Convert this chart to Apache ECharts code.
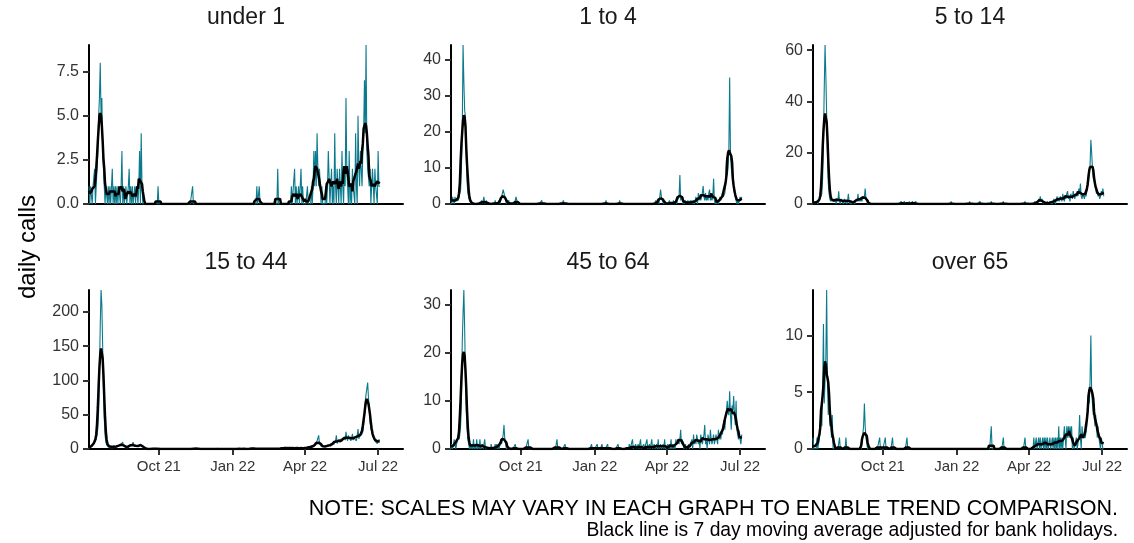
<!DOCTYPE html>
<html>
<head>
<meta charset="utf-8">
<script src="https://cdn.jsdelivr.net/npm/echarts@6.0.0/dist/echarts.min.js"></script>
<style>
  html, body { margin: 0; padding: 0; background: #fff; }
  #chart { width: 1134px; height: 543px; }
</style>
</head>
<body>
<div id="chart"></div>
<script>
// 数据：每个年龄组的每日电话数（2021-07-06 起，每行一个月）
const startDate = '2021-07-06';
const endDate = '2022-08-01';

const panelNames = ['under 1', '1 to 4', '5 to 14', '15 to 44', '45 to 64', 'over 65'];

const xTickDates = ['2021-10-01', '2022-01-01', '2022-04-01', '2022-07-01'];
const xTickLabels = ['Oct 21', 'Jan 22', 'Apr 22', 'Jul 22'];

const yMax = [9, 44, 62, 232, 33, 14];
const yTicks = [
    [0, 2.5, 5, 7.5],
    [0, 10, 20, 30, 40],
    [0, 20, 40, 60],
    [0, 50, 100, 150, 200],
    [0, 10, 20, 30],
    [0, 5, 10]
];

const under1 = [
    1,0,1,1,0,1,1,2,0,1, 2,3,5,6,8,5,6,3,2,1, 0,1,1,0,1,0,
    1,0,1,2,0,1,0,1,0,1, 0,1,1,0,1,3,0,1,0,0, 1,0,0,1,2,0,1,0,1,0, 0,
    1,0,1,1,0,1,3,0,4,1, 0,0,0,0,0,0,0,0,0,0, 0,0,0,0,0,0,0,0,0,1,
    0,0,0,0,0,0,0,0,0,0, 0,0,0,0,0,0,0,0,0,0, 0,0,0,0,0,0,0,0,0,0, 0,
    0,0,0,0,0,0,0,0,0,0, 0,1,0,0,0,0,0,0,0,0, 0,0,0,0,0,0,0,0,0,0,
    0,0,0,0,0,0,0,0,0,0, 0,0,0,0,0,0,0,0,0,0, 0,0,0,0,0,0,0,0,0,0, 0,
    0,0,0,0,0,0,0,0,0,0, 0,0,0,0,0,0,0,0,0,0, 0,0,0,0,0,0,0,0,0,0, 1,
    0,0,1,0,0,0,0,0,0,0, 0,0,0,0,0,0,0,0,0,0, 0,0,0,0,0,2,0,0,
    0,0,0,0,0,0,0,0,0,0, 0,0,0,0,1,0,0,0,2,0, 1,0,0,1,0,0,2,0,1,0, 0,
    0,0,0,1,0,0,0,0,1,0, 1,3,1,3,1,4,2,1,2,1, 0,1,0,0,0,0,1,0,1,3,
    3,0,1,2,0,1,0,4,1,0, 2,1,0,2,1,0,3,1,0,2, 1,6,2,1,0,3,0,1,0,2, 1,
    1,0,4,1,0,5,2,1,3,2, 1,3,4,7,4,9,3,2,2,1, 2,0,1,2,1,0,2,1,1,0,
    3,1,1
];

const age1to4 = [
    1,0,2,1,0,2,1,1,1,1, 2,2,4,10,20,44,34,26,24,14, 6,3,2,1,1,0,
    0,0,0,0,0,0,0,0,0,0, 0,0,1,0,0,2,0,0,1,0, 0,0,0,0,0,0,0,0,0,1, 0,
    0,0,0,1,0,1,2,3,4,3, 2,1,0,0,0,1,0,0,0,0, 0,0,0,1,2,1,0,0,0,0,
    0,0,0,0,0,0,0,0,0,0, 0,0,0,0,0,0,0,0,0,0, 0,0,0,0,0,0,1,0,0,0, 0,
    0,0,0,0,0,0,0,0,0,0, 0,0,0,0,0,0,0,0,0,0, 0,0,1,0,0,0,0,0,0,0,
    0,0,0,0,0,0,0,0,0,0, 0,0,0,0,0,0,0,0,0,0, 0,0,0,0,0,0,0,0,0,0, 0,
    0,0,0,0,0,0,0,0,0,0, 0,0,0,0,1,0,0,0,0,0, 0,0,0,0,0,0,0,0,0,0, 0,
    1,0,0,0,0,0,0,0,0,0, 0,0,0,0,0,0,0,0,0,0, 0,0,0,0,0,0,0,0,
    0,0,0,0,0,0,0,0,0,0, 0,0,0,0,0,0,0,1,0,0, 1,0,2,4,2,1,1,0,1,0, 0,
    0,0,0,1,0,0,0,0,1,0, 0,1,0,1,1,2,8,1,1,2, 0,1,0,1,0,0,1,0,0,1,
    0,1,0,1,0,1,2,1,0,3, 1,2,1,2,3,5,2,1,3,1, 2,1,3,4,1,2,1,2,7,1, 0,
    1,0,1,0,1,2,1,2,3,2, 2,3,5,12,8,10,15,35,14,10, 8,6,5,3,2,1,0,1,0,1,
    2,1,2
];

const age5to14 = [
    1,0,1,0,1,1,0,1,2,2, 3,4,10,25,45,62,50,35,20,8, 4,2,1,2,1,2,
    1,2,1,0,2,1,5,1,0,2, 1,1,0,2,1,1,0,1,4,1, 0,1,0,1,0,1,0,1,2,1, 4,
    1,2,1,2,1,3,2,3,6,2, 1,0,0,0,0,0,0,0,0,0, 0,0,0,0,0,0,0,0,0,0,
    0,0,0,0,0,0,0,0,0,0, 0,0,0,0,0,0,0,0,0,0, 0,0,0,1,0,0,0,1,0,0, 0,
    0,0,1,0,0,0,1,0,0,0, 1,0,0,0,0,0,0,0,0,0, 0,0,0,0,0,0,0,0,0,0,
    0,0,0,0,0,0,0,0,0,0, 0,0,0,0,0,0,0,0,0,0, 0,0,0,0,1,0,0,0,0,0, 0,
    0,0,0,0,0,0,0,0,0,0, 0,0,0,0,0,0,1,0,0,0, 0,0,0,0,0,0,0,0,0,1, 0,
    0,0,0,0,0,0,0,0,0,0, 0,0,1,0,0,0,0,0,0,0, 0,0,0,0,0,0,0,1,
    0,0,0,0,0,0,0,0,0,0, 0,0,0,0,0,0,0,0,0,0, 0,0,0,0,0,0,1,0,0,0, 0,
    0,0,0,0,0,0,0,1,0,0, 0,1,2,1,3,1,2,1,0,1, 0,0,0,1,0,0,1,0,1,0,
    1,2,1,0,2,3,1,2,1,3, 2,1,4,2,1,3,2,4,5,2, 3,1,4,3,2,5,3,2,4,3, 5,
    3,6,4,8,3,2,4,3,2,4, 3,5,7,8,12,15,25,20,14,10, 10,8,6,4,5,3,4,2,3,5,
    4,6,3
];

const age15to44 = [
    1,2,3,4,6,5,8,9,12,15, 20,30,55,110,180,232,210,150,90,45, 20,10,6,4,3,5,
    3,2,4,3,2,5,3,2,4,3, 5,4,6,5,7,6,10,5,4,3, 2,4,3,2,5,4,6,5,7,10, 4,
    5,3,4,2,5,4,6,7,9,5, 3,2,1,0,1,0,0,0,0,0, 0,0,0,1,0,1,0,0,0,0,
    0,1,0,0,0,0,0,0,1,0, 0,0,0,0,0,0,0,0,0,0, 1,0,0,0,0,0,0,0,0,0, 0,
    0,0,0,0,0,0,0,0,0,0, 0,0,0,0,0,2,1,0,0,0, 0,0,0,0,0,0,0,0,0,0,
    0,0,0,0,0,0,0,0,0,0, 0,0,1,0,0,0,0,0,0,0, 0,0,1,0,0,0,0,0,0,0, 0,
    0,0,0,0,0,0,1,0,0,0, 0,1,0,0,0,0,1,0,0,0, 0,1,0,0,2,0,1,0,1,0, 0,
    1,0,0,2,0,1,0,0,1,0, 0,2,0,0,1,0,0,1,0,0, 2,0,0,1,0,0,1,0,
    1,0,2,1,1,0,3,1,2,0, 1,1,3,0,2,1,1,0,2,1, 3,0,2,1,1,0,3,1,2,0, 1,
    2,1,3,2,1,3,2,4,3,2, 5,4,6,5,8,9,10,20,8,6, 4,3,5,4,3,2,5,3,4,6,
    5,7,4,8,6,10,7,9,12,20, 8,11,9,13,10,15,12,14,11,18, 13,25,16,12,20,14,17,12,15,22, 13,
    16,14,18,12,20,29,15,18,20,18, 22,25,35,50,70,80,80,97,75,60, 40,30,25,20,18,15,12,10,12,8,
    10,14,12
];

const age45to64 = [
    0,1,0,1,2,1,0,1,2,3, 2,3,5,10,22,28,33,25,15,8, 4,2,1,0,1,0,
    1,0,2,0,1,0,2,0,1,0, 2,0,0,1,0,0,2,0,0,0, 0,0,0,0,1,0,0,0,0,1, 0,
    1,0,1,0,1,2,1,2,3,5, 2,1,0,1,0,0,0,0,0,0, 0,0,0,1,0,0,0,0,0,0,
    0,0,0,0,0,0,0,0,0,2, 0,0,0,0,0,0,0,0,0,0, 0,0,0,0,0,0,0,0,0,0, 0,
    0,0,0,0,0,0,0,0,0,0, 0,0,0,0,2,0,0,0,0,0, 0,0,0,0,1,0,0,0,0,0,
    0,0,0,0,0,0,0,0,0,0, 0,0,0,0,0,0,0,0,0,0, 0,0,0,0,0,0,0,1,0,0, 0,
    0,0,0,1,0,0,0,0,0,1, 0,0,0,0,0,0,1,0,0,0, 0,0,0,0,0,0,0,0,0,1, 0,
    0,0,0,0,0,0,0,0,0,0, 0,0,1,0,0,0,2,0,0,0, 1,0,0,1,0,0,2,0,
    0,0,1,0,0,0,2,0,0,1, 0,0,2,0,0,1,0,0,1,0, 2,0,0,1,0,0,1,0,2,0, 0,
    0,1,0,1,0,2,0,1,0,1, 0,2,1,1,2,1,2,4,1,2, 1,0,0,1,0,0,0,1,0,1,
    1,2,0,3,1,2,1,3,2,1, 2,0,3,2,1,2,3,5,1,2, 0,3,2,1,4,2,1,2,3,1, 2,
    3,2,1,4,2,3,2,4,3,5, 6,4,7,8,10,8,7,12,7,4, 9,8,11,7,5,10,4,3,2,3,
    2,1,3
];

const over65 = [
    1,0,0,0,0,1,0,0,1,2, 3,2,5,11,4,6,8,14,6,3, 5,2,3,1,3,0,
    0,0,0,0,0,0,0,1,0,0, 0,0,0,0,0,1,0,0,0,0, 0,0,0,0,0,0,0,0,0,0, 0,
    0,0,0,0,0,0,2,4,2,1, 1,0,0,0,0,0,0,0,0,0, 0,0,0,0,0,0,1,0,0,0,
    0,0,0,1,0,0,0,0,0,0, 0,0,1,0,0,0,0,0,0,0, 0,0,0,0,0,0,0,0,0,0, 1,
    0,0,0,0,0,0,0,0,0,0, 0,0,0,0,0,0,0,0,0,0, 0,0,0,0,0,0,0,0,0,0,
    0,0,0,0,0,0,0,0,0,0, 0,0,0,0,0,0,0,0,0,0, 0,0,0,0,0,0,0,0,0,0, 0,
    0,0,0,0,0,0,0,0,0,0, 0,0,0,0,0,0,0,0,0,0, 0,0,0,0,0,0,0,0,0,0, 0,
    0,0,0,0,0,0,0,0,0,0, 0,0,2,0,0,0,0,0,0,0, 0,0,0,0,0,0,0,1,
    0,0,0,0,0,0,0,0,0,0, 0,0,0,0,0,0,0,0,0,0, 0,0,0,0,0,0,1,0,0,0, 0,
    0,0,0,0,0,0,1,0,0,1, 0,0,1,0,1,0,0,1,0,1, 0,1,0,1,0,0,1,0,0,1,
    0,1,0,1,0,1,0,2,0,1, 0,1,0,1,2,1,0,2,1,2, 1,2,1,2,0,1,0,0,0,1, 0,
    0,1,3,1,0,2,1,1,1,1, 1,2,4,5,4,6,10,5,4,3, 4,2,3,2,1,2,1,1,0,1,
    1,0,0
];

const panelData = [under1, age1to4, age5to14, age15to44, age45to64, over65];

// 颜色与布局
const dailyColor = '#0b7a8d';
const textColor = '#333';
const fontFamily = 'Liberation Sans, Arial, sans-serif';
const gridLeft = [89, 451, 813];
const gridTop = [45, 290];
const gridWidth = 314;
const gridHeight = 159;

// x 轴用“距起始日的天数”，刻度由日期换算
const dayMs = 24 * 3600 * 1000;
const startTs = Date.parse(startDate);
const toDay = d => Math.round((Date.parse(d) - startTs) / dayMs);
const xMaxDay = toDay(endDate);
const tickDays = xTickDates.map(toDay);

// 7 天居中移动平均（两端用可用天数）
function movingAverage(values, k) {
    const half = Math.floor(k / 2);
    return values.map((v, i) => {
        const win = values.slice(Math.max(0, i - half), Math.min(values.length, i + half + 1));
        return win.reduce((a, b) => a + b, 0) / win.length;
    });
}

const toPoints = vals => vals.map((v, j) => [j, v]);

const grids = [], xAxes = [], yAxes = [], series = [], graphics = [];

panelData.forEach((vals, i) => {
    const col = i % 3;
    const row = Math.floor(i / 3);
    const bottom = row === 1;

    grids.push({
        left: gridLeft[col], top: gridTop[row],
        width: gridWidth, height: gridHeight,
        containLabel: false, outerBoundsMode: 'none'
    });

    xAxes.push({
        type: 'value', gridIndex: i,
        min: 0, max: xMaxDay,
        axisLine: { show: true, onZero: false, lineStyle: { color: '#000', width: 2 } },
        axisTick: {
            show: bottom, length: 6, customValues: tickDays,
            lineStyle: { color: textColor, width: 2 }
        },
        axisLabel: {
            show: bottom, customValues: tickDays, margin: 10,
            color: textColor, fontSize: 15, fontFamily: fontFamily,
            formatter: v => xTickLabels[tickDays.indexOf(v)] || ''
        },
        splitLine: { show: false }
    });

    yAxes.push({
        type: 'value', gridIndex: i,
        min: 0, max: yMax[i],
        axisLine: { show: true, lineStyle: { color: '#000', width: 2 } },
        axisTick: {
            show: true, length: 6, customValues: yTicks[i],
            lineStyle: { color: textColor, width: 2 }
        },
        axisLabel: {
            customValues: yTicks[i], margin: 10,
            color: textColor, fontSize: 16, fontFamily: fontFamily,
            formatter: v => (i === 0 ? v.toFixed(1) : String(v))
        },
        splitLine: { show: false }
    });

    series.push({
        name: panelNames[i] + ' daily', type: 'line',
        xAxisIndex: i, yAxisIndex: i,
        data: toPoints(vals),
        showSymbol: false, symbol: 'none', z: 2,
        lineStyle: { color: dailyColor, width: 1.1 }
    });
    series.push({
        name: panelNames[i] + ' 7 day average', type: 'line',
        xAxisIndex: i, yAxisIndex: i,
        data: toPoints(movingAverage(vals, 7)),
        showSymbol: false, symbol: 'none', z: 3,
        lineStyle: { color: '#000', width: 2.5 }
    });

    // 面板标题
    graphics.push({
        type: 'text',
        x: gridLeft[col] + gridWidth / 2,
        y: gridTop[row] - 27,
        style: {
            text: panelNames[i], fill: '#1a1a1a',
            fontSize: 23, fontFamily: fontFamily,
            align: 'center', verticalAlign: 'middle'
        }
    });
});

// y 轴标题和底部说明
graphics.push({
    type: 'text', x: 28, y: 247, rotation: Math.PI / 2,
    style: {
        text: 'daily calls', fill: '#000', fontSize: 24, fontFamily: fontFamily,
        align: 'center', verticalAlign: 'middle'
    }
});
graphics.push({
    type: 'text', x: 1118, y: 509,
    style: {
        text: 'NOTE: SCALES MAY VARY IN EACH GRAPH TO ENABLE TREND COMPARISON.',
        fill: '#000', fontSize: 21.5, fontFamily: fontFamily,
        align: 'right', verticalAlign: 'middle'
    }
});
graphics.push({
    type: 'text', x: 1118, y: 531,
    style: {
        text: 'Black line is 7 day moving average adjusted for bank holidays.',
        fill: '#000', fontSize: 19.3, fontFamily: fontFamily,
        align: 'right', verticalAlign: 'middle'
    }
});

const chart = echarts.init(document.getElementById('chart'));
chart.setOption({
    animation: false,
    backgroundColor: '#fff',
    grid: grids,
    xAxis: xAxes,
    yAxis: yAxes,
    series: series,
    graphic: graphics
});
</script>
</body>
</html>
